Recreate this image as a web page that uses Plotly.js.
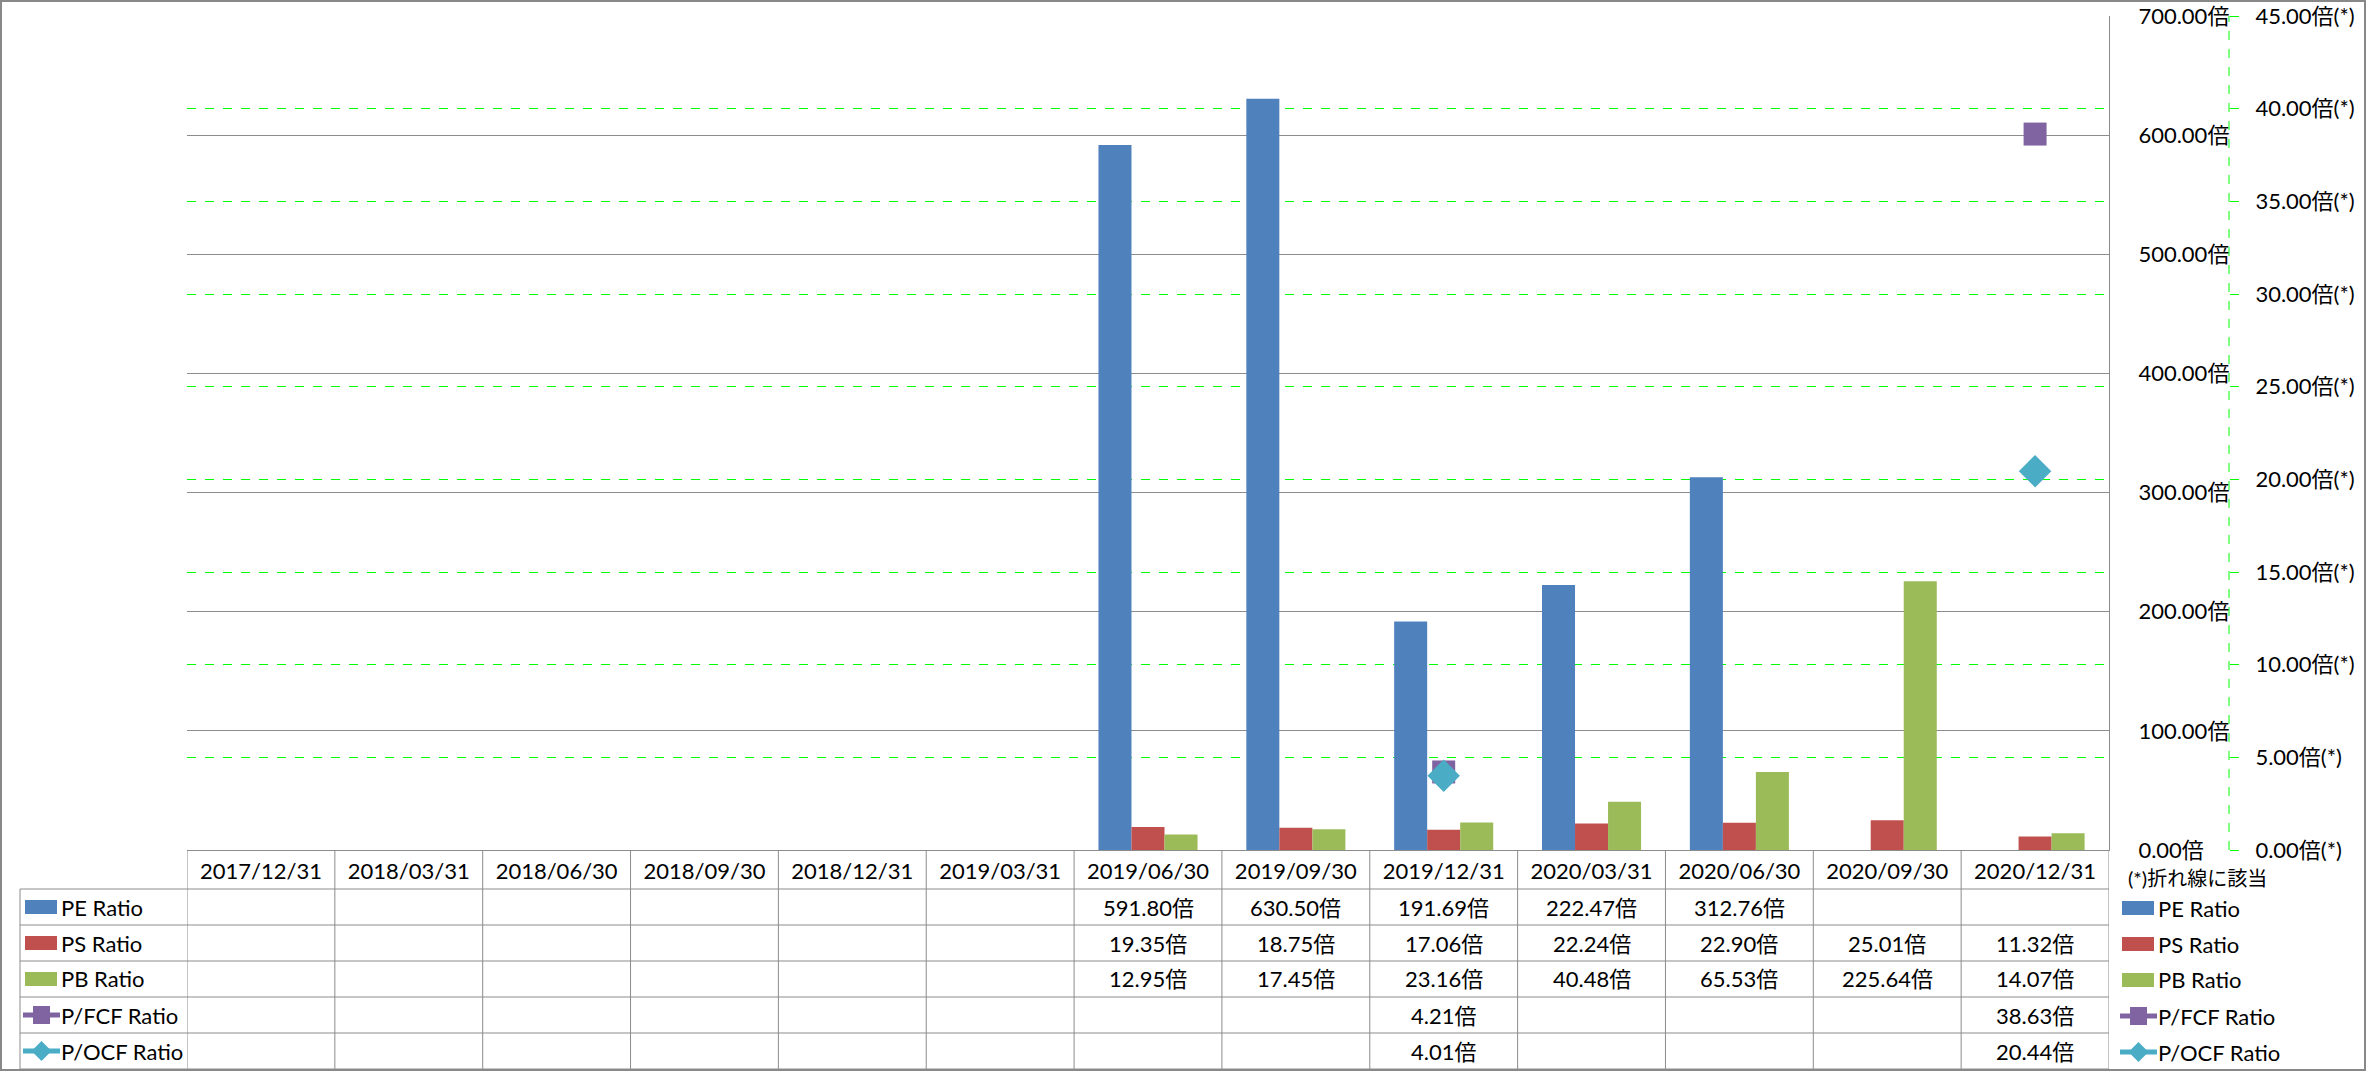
<!DOCTYPE html>
<html><head><meta charset="utf-8">
<script src="https://cdn.plot.ly/plotly-3.0.1.min.js"></script>
<style>html,body{margin:0;padding:0;background:#fff;} #chart{width:2366px;height:1071px;}</style>
</head><body><div id="chart"></div>
<script>
// ---- data ----
const dates = ['2017/12/31','2018/03/31','2018/06/30','2018/09/30','2018/12/31','2019/03/31','2019/06/30','2019/09/30','2019/12/31','2020/03/31','2020/06/30','2020/09/30','2020/12/31'];
const peRatio   = [null,null,null,null,null,null,591.80,630.50,191.69,222.47,312.76,null,null];
const psRatio   = [null,null,null,null,null,null,19.35,18.75,17.06,22.24,22.90,25.01,11.32];
const pbRatio   = [null,null,null,null,null,null,12.95,17.45,23.16,40.48,65.53,225.64,14.07];
const pfcfRatio = [null,null,null,null,null,null,null,null,4.21,null,null,null,38.63];
const pocfRatio = [null,null,null,null,null,null,null,null,4.01,null,null,null,20.44];
const seriesNames = ['PE Ratio','PS Ratio','PB Ratio','P/FCF Ratio','P/OCF Ratio'];
const legendNote = '(*)折れ線に該当';
const unit = '倍';
const unit2 = '倍(*)';

// ---- styles / geometry ----
const colors = ['#4F81BD','#C0504D','#9BBB59','#8064A2','#4BACC6'];
const kinds = ['bar','bar','bar','square','diamond'];
const FONT = "Lato, 'Noto Sans CJK JP', sans-serif";
const W = 2366, H = 1071;
const L = 187, RP = 2109, R2 = 2229, T = 16, B = 850;
const PW = RP - L, PH = B - T;
const px2x = p => (p - L) / PW;
const px2y = p => (B - p) / PH;
const headerBottom = 889, rowH = 36, tableBottom = 1070, tableLeft = 20;
const gridGray = '#8c8c8c';

const seriesData = [peRatio, psRatio, pbRatio, pfcfRatio, pocfRatio];

const traces = [];
for (let i = 0; i < 3; i++) {
  traces.push({type:'bar', x:dates, y:seriesData[i], name:seriesNames[i], yaxis:'y',
    marker:{color:colors[i], line:{width:0}}, showlegend:false});
}
for (let i = 3; i < 5; i++) {
  traces.push({type:'scatter', mode:'lines+markers', x:dates, y:seriesData[i], name:seriesNames[i],
    yaxis:'y2', connectgaps:false, line:{color:colors[i], width:5},
    marker:{symbol:kinds[i], size: kinds[i]==='square'?23:25, color:colors[i]}, showlegend:false});
}

const shapes = [];
const annotations = [];

// outer border
shapes.push({type:'rect', xref:'paper', yref:'paper', x0:px2x(1), x1:px2x(W-1), y0:px2y(H-1), y1:px2y(1),
  line:{color:'#888888', width:2}, fillcolor:'rgba(0,0,0,0)', layer:'above'});
// secondary axis dashed line
shapes.push({type:'line', xref:'paper', yref:'paper', x0:px2x(R2), x1:px2x(R2), y0:0, y1:1,
  line:{color:'#00ff00', width:1, dash:'dash'}});

// table vertical lines
for (let i = 0; i <= dates.length; i++) {
  shapes.push({type:'line', xref:'x', yref:'paper', x0:i-0.5, x1:i-0.5, y0:px2y(B), y1:px2y(tableBottom),
    line:{color:gridGray, width:1}});
}
shapes.push({type:'line', xref:'paper', yref:'paper', x0:px2x(tableLeft), x1:px2x(tableLeft),
  y0:px2y(headerBottom), y1:px2y(tableBottom), line:{color:gridGray, width:1}});
// table horizontal lines
for (let r = 0; r <= seriesNames.length; r++) {
  const py = headerBottom + r*rowH;
  shapes.push({type:'line', xref:'paper', yref:'paper', x0:px2x(tableLeft), x1:px2x(RP),
    y0:px2y(py), y1:px2y(py), line:{color:gridGray, width:1}});
}

function legendKey(k, cxStart, cy) {
  const c = colors[k];
  if (kinds[k] === 'bar') {
    shapes.push({type:'rect', xref:'paper', yref:'paper', x0:px2x(cxStart+2), x1:px2x(cxStart+34),
      y0:px2y(cy+7), y1:px2y(cy-7), line:{width:0}, fillcolor:c});
  } else {
    shapes.push({type:'line', xref:'paper', yref:'paper', x0:px2x(cxStart), x1:px2x(cxStart+37),
      y0:px2y(cy), y1:px2y(cy), line:{color:c, width:5}});
    const mx = cxStart + 18.5;
    if (kinds[k] === 'square') {
      shapes.push({type:'rect', xref:'paper', yref:'paper', x0:px2x(mx-8.5), x1:px2x(mx+8.5),
        y0:px2y(cy+9), y1:px2y(cy-9), line:{width:0}, fillcolor:c});
    } else {
      const p = [[mx-10,cy],[mx,cy-10],[mx+10,cy],[mx,cy+10]];
      shapes.push({type:'path', xref:'paper', yref:'paper',
        path:'M'+p.map(q=>px2x(q[0])+','+px2y(q[1])).join('L')+'Z', line:{width:0}, fillcolor:c});
    }
  }
}

// rows
for (let r = 0; r < seriesNames.length; r++) {
  const cy = headerBottom + r*rowH + rowH/2;
  // left label column
  legendKey(r, 23, cy);
  annotations.push({xref:'paper', yref:'paper', x:px2x(59), y:px2y(cy), xanchor:'left', yanchor:'middle',
    text:seriesNames[r], showarrow:false, font:{family:FONT, size:22, color:'#000'}});
  // right legend
  legendKey(r, 2120, cy + 1);
  annotations.push({xref:'paper', yref:'paper', x:px2x(2156), y:px2y(cy+1), xanchor:'left', yanchor:'middle',
    text:seriesNames[r], showarrow:false, font:{family:FONT, size:22, color:'#000'}});
  // values
  const vals = seriesData[r];
  for (let i = 0; i < dates.length; i++) {
    if (vals[i] === null) continue;
    annotations.push({xref:'x', yref:'paper', x:dates[i], y:px2y(cy), xanchor:'center', yanchor:'middle',
      text:vals[i].toFixed(2) + unit, showarrow:false, font:{family:FONT, size:22, color:'#000'}});
  }
}
annotations.push({xref:'paper', yref:'paper', x:px2x(2126), y:px2y(878), xanchor:'left', yanchor:'middle',
  text:legendNote, showarrow:false, font:{family:FONT, size:20, color:'#000'}});

const layout = {
  width:W, height:H,
  margin:{l:L, r:W-RP, t:T, b:H-B, pad:0},
  paper_bgcolor:'#ffffff', plot_bgcolor:'#ffffff',
  font:{family:FONT, size:22, color:'#000'},
  showlegend:false,
  barmode:'group', bargap:0.33, bargroupgap:0,
  xaxis:{type:'category', range:[-0.5, dates.length-0.5], showline:true, linecolor:gridGray, linewidth:1,
    ticks:'', showgrid:false, zeroline:false, tickfont:{family:FONT, size:22, color:'#000'},
    ticklabelstandoff:2, fixedrange:true},
  yaxis:{range:[0,700], tick0:0, dtick:100, side:'right', showline:true, linecolor:gridGray, linewidth:1,
    showgrid:true, gridcolor:gridGray, gridwidth:1, zeroline:false, ticks:'',
    tickformat:'.2f', ticksuffix:unit, tickfont:{family:FONT, size:22, color:'#000'},
    ticklabelstandoff:24, fixedrange:true},
  yaxis2:{overlaying:'y', anchor:'free', position:1, shift:R2-RP, side:'right', range:[0,45], tick0:0, dtick:5,
    showgrid:true, gridcolor:'#00ff00', griddash:'dash', gridwidth:1, zeroline:false, showline:false,
    ticks:'outside', ticklen:9, tickcolor:'#00ff00', tickwidth:1,
    tickformat:'.2f', ticksuffix:unit2, tickfont:{family:FONT, size:22, color:'#000'},
    ticklabelstandoff:12, fixedrange:true},
  shapes:shapes, annotations:annotations
};

Plotly.newPlot('chart', traces, layout, {displayModeBar:false, staticPlot:true});
</script>
</body></html>
